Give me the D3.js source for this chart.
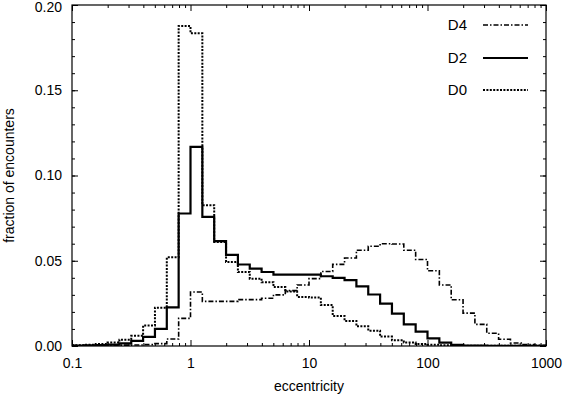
<!DOCTYPE html>
<html>
<head>
<meta charset="utf-8">
<script src="https://cdn.jsdelivr.net/npm/d3@7"></script>
<style>
  body { margin: 0; background: #fff; }
  text { font-family: "Liberation Sans", Arial, sans-serif; }
</style>
</head>
<body>
<div id="chart"></div>
<script>
// histogram bins: 0.1 dex wide, from 0.1 to 1000 (40 bins)
var logMin = -1, binWidth = 0.1;

var seriesNames = ["D4", "D2", "D0"];

var d0 = [0.0005, 0.0008, 0.0012, 0.0020, 0.0037, 0.0060, 0.0120, 0.0225, 0.0520, 0.1877,
          0.1834, 0.0826, 0.0610, 0.0493, 0.0434, 0.0395, 0.0374, 0.0346, 0.0320, 0.0288,
          0.0284, 0.0240, 0.0176, 0.0147, 0.0116, 0.0090, 0.0055, 0.0033, 0.0020, 0.0012,
          0.0008, 0.0005, 0.0003, 0.0002, 0.0001, 0.0001, 0.0001, 0.0001, 0.0001, 0.0001];

var d2 = [0.0003, 0.0004, 0.0005, 0.0008, 0.0015, 0.0030, 0.0053, 0.0100, 0.0227, 0.0777,
          0.1168, 0.0757, 0.0615, 0.0535, 0.0478, 0.0454, 0.0434, 0.0419, 0.0419, 0.0419,
          0.0419, 0.0409, 0.0400, 0.0386, 0.0350, 0.0302, 0.0249, 0.0190, 0.0127, 0.0084,
          0.0045, 0.0020, 0.0007, 0.0003, 0.0002, 0.0001, 0.0001, 0.0001, 0.0001, 0.0001];

var d4 = [0.0002, 0.0002, 0.0003, 0.0004, 0.0005, 0.0006, 0.0008, 0.0014, 0.0041, 0.0162,
          0.0317, 0.0262, 0.0262, 0.0262, 0.0272, 0.0272, 0.0280, 0.0300, 0.0325, 0.0358,
          0.0395, 0.0437, 0.0479, 0.0516, 0.0562, 0.0585, 0.0600, 0.0598, 0.0562, 0.0507,
          0.0441, 0.0358, 0.0271, 0.0193, 0.0127, 0.0075, 0.0040, 0.0018, 0.0008, 0.0004];

var xTickValues = [0.1, 1, 10, 100, 1000];
var yTickValues = [0, 0.05, 0.10, 0.15, 0.20];

var styles = {
  D4: {width: 1.6, dash: "5,2,1.5,2"},
  D2: {width: 2.2, dash: null},
  D0: {width: 2, dash: "2,1.4"}
};
var seriesData = {D4: d4, D2: d2, D0: d0};

var W = 567, H = 396;
var margin = {top: 5, right: 21, bottom: 50, left: 72},
    width = W - margin.left - margin.right,
    height = H - margin.top - margin.bottom;

var svg = d3.select("#chart").append("svg")
    .attr("width", W).attr("height", H);

var g = svg.append("g")
    .attr("transform", "translate(" + margin.left + "," + margin.top + ")");

var x = d3.scaleLog().domain([0.1, 1000]).range([0, width]);
var y = d3.scaleLinear().domain([0, 0.2]).range([height, 0]);

// minor ticks (inward) on all four sides
var minorX = x.ticks().filter(function(d) { return xTickValues.indexOf(d) < 0; });
var minorY = d3.range(0, 0.2001, 0.01).map(function(d) { return +d.toFixed(2); });

function styleAxis(sel) {
  sel.select(".domain").remove();
  sel.selectAll("line").attr("stroke", "#000");
  sel.selectAll("text").attr("fill", "#000").style("font-size", "14px");
}

g.append("g").attr("transform", "translate(0," + height + ")")
  .call(d3.axisBottom(x).tickValues(minorX).tickSize(-3).tickFormat(""))
  .call(styleAxis);
g.append("g")
  .call(d3.axisTop(x).tickValues(minorX).tickSize(-3).tickFormat(""))
  .call(styleAxis);
g.append("g")
  .call(d3.axisLeft(y).tickValues(minorY).tickSize(-3).tickFormat(""))
  .call(styleAxis);
g.append("g").attr("transform", "translate(" + width + ",0)")
  .call(d3.axisRight(y).tickValues(minorY).tickSize(-3).tickFormat(""))
  .call(styleAxis);

// major ticks with labels
g.append("g").attr("transform", "translate(0," + height + ")")
  .call(d3.axisBottom(x).tickValues(xTickValues).tickSize(-6).tickPadding(12)
        .tickFormat(function(d) { return String(d); }))
  .call(styleAxis);
g.append("g")
  .call(d3.axisTop(x).tickValues(xTickValues).tickSize(-6).tickFormat(""))
  .call(styleAxis);
g.append("g")
  .call(d3.axisLeft(y).tickValues(yTickValues).tickSize(-6).tickPadding(10)
        .tickFormat(d3.format(".2f")))
  .call(styleAxis)
  .selectAll("text")
  .attr("dy", function(d) { return d === 0.2 ? "0.45em" : "0.32em"; });
g.append("g").attr("transform", "translate(" + width + ",0)")
  .call(d3.axisRight(y).tickValues(yTickValues).tickSize(-6).tickFormat(""))
  .call(styleAxis);

// clip
g.append("clipPath").attr("id", "clip")
  .append("rect").attr("width", width).attr("height", height);

// step histograms
var line = d3.line()
  .x(function(d) { return x(d.e); })
  .y(function(d) { return y(d.v); })
  .curve(d3.curveStepAfter);

function stepPoints(vals) {
  var pts = vals.map(function(v, i) {
    return {e: Math.pow(10, logMin + i * binWidth), v: v};
  });
  pts.push({e: Math.pow(10, logMin + vals.length * binWidth), v: vals[vals.length - 1]});
  return pts;
}

seriesNames.forEach(function(name) {
  var st = styles[name];
  g.append("path")
    .attr("clip-path", "url(#clip)")
    .attr("d", line(stepPoints(seriesData[name])))
    .attr("fill", "none")
    .attr("stroke", "#000")
    .attr("stroke-width", st.width)
    .attr("stroke-dasharray", st.dash);
});

// frame
g.append("rect")
  .attr("width", width).attr("height", height)
  .attr("fill", "none").attr("stroke", "#000").attr("stroke-width", 1.2);

// legend
var legendY = [20, 53, 85];
seriesNames.forEach(function(name, i) {
  var st = styles[name];
  var lg = g.append("g").attr("transform", "translate(0," + legendY[i] + ")");
  lg.append("text")
    .attr("x", 395).attr("y", 0).attr("dy", "0.35em")
    .attr("text-anchor", "end")
    .style("font-size", "15px")
    .text(name);
  lg.append("line")
    .attr("x1", 411).attr("x2", 456)
    .attr("stroke", "#000")
    .attr("stroke-width", st.width)
    .attr("stroke-dasharray", st.dash);
});

// axis titles
svg.append("text")
  .attr("x", margin.left + width / 2).attr("y", 391)
  .attr("text-anchor", "middle")
  .style("font-size", "14px")
  .text("eccentricity");

svg.append("text")
  .attr("transform", "translate(14," + (margin.top + height / 2) + ")rotate(-90)")
  .attr("text-anchor", "middle")
  .style("font-size", "14px")
  .text("fraction of encounters");
</script>
</body>
</html>
